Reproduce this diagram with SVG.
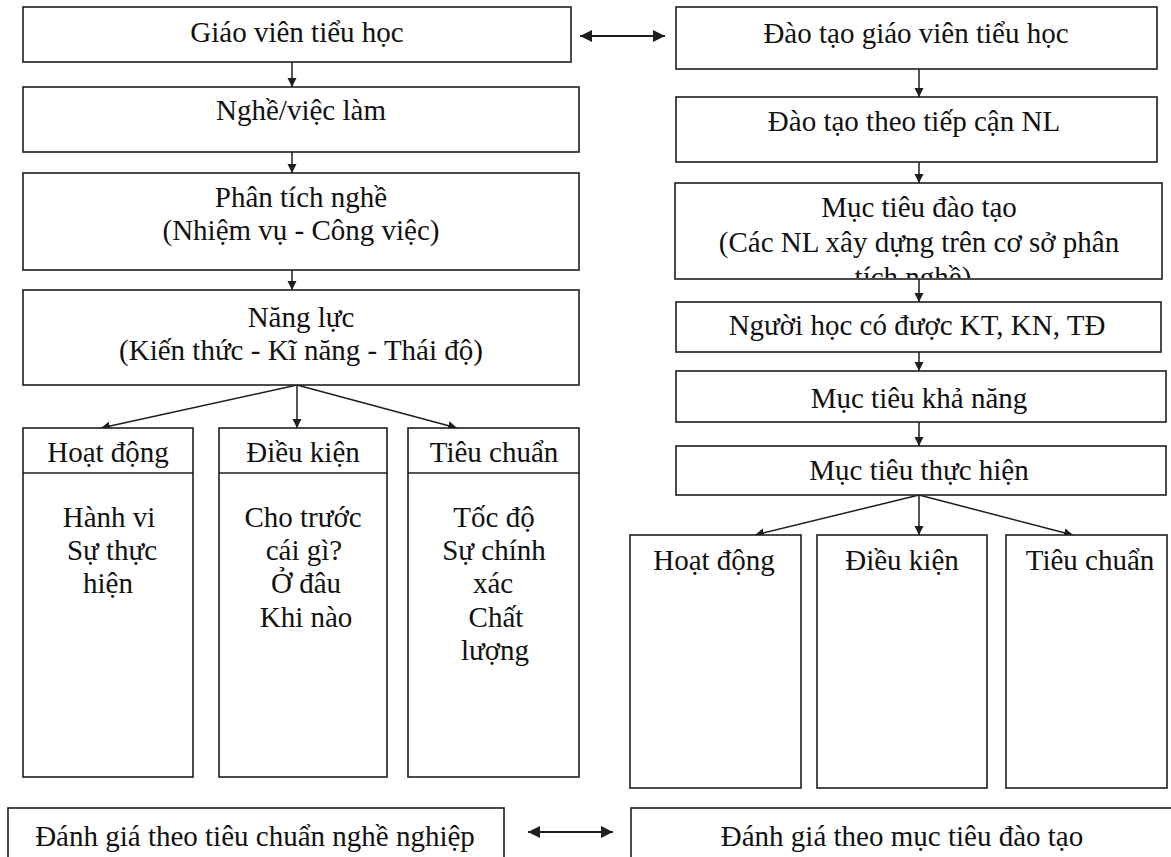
<svg xmlns="http://www.w3.org/2000/svg" width="1171" height="857" viewBox="0 0 1171 857">
  <style>
    .box { fill: #ffffff; stroke: #1e1e1e; stroke-width: 1.6; }
    .sep { stroke: #1e1e1e; stroke-width: 1.6; fill: none; }
    .lbl { font-family: "Liberation Serif", "Times New Roman", serif; font-size: 29px; fill: #111111; text-anchor: middle; }
    .link { stroke: #1e1e1e; stroke-width: 1.5; fill: none; marker-end: url(#tip); }
    .both { stroke: #1e1e1e; stroke-width: 1.8; fill: none; marker-start: url(#tipBig); marker-end: url(#tipBig); }
  </style>
  <defs>
    <marker id="tip" markerUnits="userSpaceOnUse" viewBox="0 0 10 10" refX="10" refY="5" markerWidth="9" markerHeight="10" orient="auto">
      <path d="M0,0 L10,5 L0,10 z" fill="#1e1e1e"/>
    </marker>
    <marker id="tipBig" markerUnits="userSpaceOnUse" viewBox="0 0 10 10" refX="10" refY="5" markerWidth="12" markerHeight="12" orient="auto-start-reverse">
      <path d="M0,0 L10,5 L0,10 z" fill="#1e1e1e"/>
    </marker>
    <clipPath id="clipGoal">
      <rect x="676" y="184" width="485" height="94"/>
    </clipPath>
  </defs>

  <rect width="1171" height="857" fill="#ffffff"/>

  <!-- connectors -->
  <g id="connectors">
    <line class="both" x1="580" y1="36" x2="665" y2="36"/>
    <line class="link" x1="292" y1="62" x2="292" y2="87"/>
    <line class="link" x1="292" y1="152" x2="292" y2="173"/>
    <line class="link" x1="292" y1="270" x2="292" y2="290"/>
    <line class="link" x1="297" y1="385" x2="101" y2="428"/>
    <line class="link" x1="297" y1="385" x2="297" y2="428"/>
    <line class="link" x1="297" y1="385" x2="457" y2="428"/>

    <line class="link" x1="919" y1="69" x2="919" y2="97"/>
    <line class="link" x1="919" y1="162" x2="919" y2="183"/>
    <line class="link" x1="919" y1="279" x2="919" y2="302"/>
    <line class="link" x1="919" y1="352" x2="919" y2="371"/>
    <line class="link" x1="919" y1="422" x2="919" y2="446"/>
    <line class="link" x1="919" y1="495" x2="755" y2="535"/>
    <line class="link" x1="919" y1="495" x2="919" y2="535"/>
    <line class="link" x1="919" y1="495" x2="1073" y2="535"/>

    <line class="both" x1="528" y1="832" x2="613" y2="832"/>
  </g>

  <!-- left column -->
  <g id="gv-tieu-hoc">
    <rect class="box" x="23" y="7" width="548" height="55"/>
    <text class="lbl" x="297" y="42">Giáo viên tiểu học</text>
  </g>
  <g id="nghe-viec-lam">
    <rect class="box" x="23" y="87" width="556" height="65"/>
    <text class="lbl" x="301" y="120">Nghề/việc làm</text>
  </g>
  <g id="phan-tich-nghe">
    <rect class="box" x="23" y="173" width="556" height="97"/>
    <text class="lbl" x="301" y="207">Phân tích nghề</text>
    <text class="lbl" x="301" y="240">(Nhiệm vụ - Công việc)</text>
  </g>
  <g id="nang-luc">
    <rect class="box" x="23" y="290" width="556" height="95"/>
    <text class="lbl" x="301" y="327">Năng lực</text>
    <text class="lbl" x="301" y="360">(Kiến thức - Kĩ năng - Thái độ)</text>
  </g>

  <g id="l-hoat-dong">
    <rect class="box" x="23" y="428" width="170" height="349"/>
    <line class="sep" x1="23" y1="473" x2="193" y2="473"/>
    <text class="lbl" x="108" y="462">Hoạt động</text>
    <text class="lbl" x="109" y="527">Hành vi</text>
    <text class="lbl" x="112" y="560">Sự thực</text>
    <text class="lbl" x="108" y="593">hiện</text>
  </g>
  <g id="l-dieu-kien">
    <rect class="box" x="219" y="428" width="168" height="349"/>
    <line class="sep" x1="219" y1="473" x2="387" y2="473"/>
    <text class="lbl" x="303" y="462">Điều kiện</text>
    <text class="lbl" x="303" y="527">Cho trước</text>
    <text class="lbl" x="304" y="560">cái gì?</text>
    <text class="lbl" x="306" y="593">Ở đâu</text>
    <text class="lbl" x="306" y="627">Khi nào</text>
  </g>
  <g id="l-tieu-chuan">
    <rect class="box" x="408" y="428" width="171" height="349"/>
    <line class="sep" x1="408" y1="473" x2="579" y2="473"/>
    <text class="lbl" x="494" y="462">Tiêu chuẩn</text>
    <text class="lbl" x="494" y="527">Tốc độ</text>
    <text class="lbl" x="494" y="560">Sự chính</text>
    <text class="lbl" x="493" y="593">xác</text>
    <text class="lbl" x="496" y="627">Chất</text>
    <text class="lbl" x="495" y="660">lượng</text>
  </g>

  <!-- right column -->
  <g id="dao-tao-gv">
    <rect class="box" x="676" y="7" width="481" height="62"/>
    <text class="lbl" x="916" y="43">Đào tạo giáo viên tiểu học</text>
  </g>
  <g id="tiep-can-nl">
    <rect class="box" x="676" y="97" width="481" height="65"/>
    <text class="lbl" x="914" y="131">Đào tạo theo tiếp cận NL</text>
  </g>
  <g id="muc-tieu-dao-tao">
    <rect class="box" x="675" y="183" width="487" height="96"/>
    <g clip-path="url(#clipGoal)">
      <text class="lbl" x="919" y="217">Mục tiêu đào tạo</text>
      <text class="lbl" x="919" y="252">(Các NL xây dựng trên cơ sở phân</text>
      <text class="lbl" x="913" y="287">tích nghề)</text>
    </g>
  </g>
  <g id="nguoi-hoc">
    <rect class="box" x="676" y="302" width="485" height="50"/>
    <text class="lbl" x="917" y="335">Người học có được KT, KN, TĐ</text>
  </g>
  <g id="muc-tieu-kha-nang">
    <rect class="box" x="676" y="371" width="490" height="51"/>
    <text class="lbl" x="919" y="408">Mục tiêu khả năng</text>
  </g>
  <g id="muc-tieu-thuc-hien">
    <rect class="box" x="676" y="446" width="490" height="49"/>
    <text class="lbl" x="919" y="480">Mục tiêu thực hiện</text>
  </g>

  <g id="r-hoat-dong">
    <rect class="box" x="630" y="535" width="171" height="253"/>
    <text class="lbl" x="714" y="570">Hoạt động</text>
  </g>
  <g id="r-dieu-kien">
    <rect class="box" x="817" y="535" width="170" height="253"/>
    <text class="lbl" x="902" y="570">Điều kiện</text>
  </g>
  <g id="r-tieu-chuan">
    <rect class="box" x="1006" y="535" width="161" height="253"/>
    <text class="lbl" x="1090" y="570">Tiêu chuẩn</text>
  </g>

  <!-- assessment row -->
  <g id="danh-gia-nghe-nghiep">
    <rect class="box" x="8" y="808" width="496" height="70"/>
    <text class="lbl" x="255" y="846">Đánh giá theo tiêu chuẩn nghề nghiệp</text>
  </g>
  <g id="danh-gia-muc-tieu">
    <rect class="box" x="631" y="808" width="560" height="70"/>
    <text class="lbl" x="902" y="846">Đánh giá theo mục tiêu đào tạo</text>
  </g>
</svg>
